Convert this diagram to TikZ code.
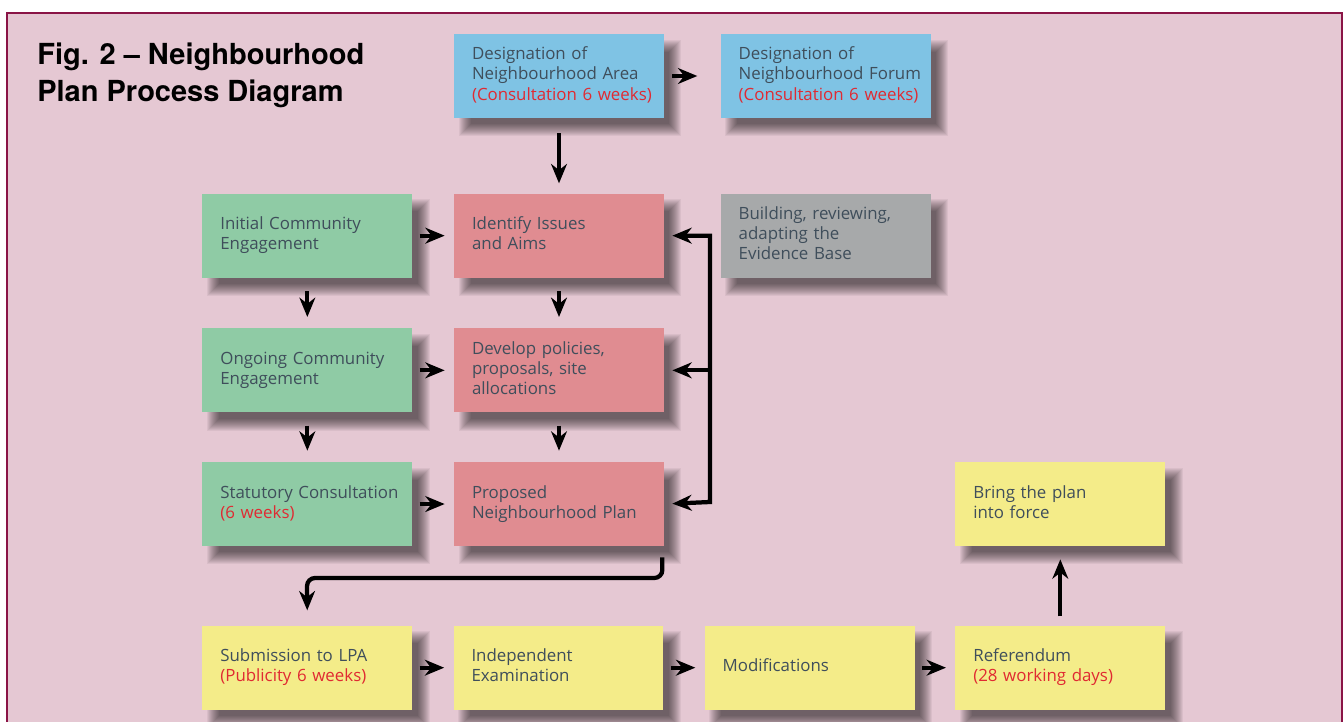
\documentclass[tikz,border=0pt]{standalone}
\usepackage{fontspec}
\setmainfont{Open Sans}
\newfontfamily\headfont{TeX Gyre Heros}
\usetikzlibrary{positioning,arrows.meta}
\pgfdeclarelayer{back}
\pgfdeclarelayer{shade}
\pgfsetlayers{back,shade,main}
\definecolor{pagepink}{HTML}{E5C8D3}
\definecolor{framered}{HTML}{8A1446}
\definecolor{boxblue}{HTML}{7FC3E4}
\definecolor{boxred}{HTML}{E08C91}
\definecolor{boxgreen}{HTML}{8FCBA5}
\definecolor{boxgrey}{HTML}{A7A9AA}
\definecolor{boxyellow}{HTML}{F4EC89}
\definecolor{textgrey}{HTML}{3F4E5B}
\definecolor{delayred}{HTML}{E02A32}
\newcommand{\duration}[1]{\textcolor{delayred}{#1}}
\tikzset {
stage/.style={shape=rectangle,fill=#1,minimum width=4.2cm,minimum height=1.68cm,text width=3.72cm,inner xsep=0.24cm,align=left,text=textgrey,font=\fontsize{9.6}{11.4}\selectfont,execute at begin node={\leftskip=0.12cm\strut},execute at end node=\strut},
flow/.style={->,line width=0.085cm},
across/.style={flow,shorten <=0.14cm,shorten >=0.18cm},
down/.style={flow,shorten <=0.26cm,shorten >=0.22cm},
heading/.style={anchor=north west,inner sep=0pt,align=left,font=\headfont\bfseries\fontsize{16.5}{21}\selectfont}
}
\begin{document}
\begin{tikzpicture}
[x=0.02cm,y=-0.02cm,>={Stealth[length=11pt,width=9pt,inset=3.5pt]}]
\useasboundingbox (0,0) rectangle (1344,722);
\begin{pgfonlayer}{back}
\fill[white] (0,0) rectangle (1344,722);
\draw[fill=pagepink,draw=framered,line width=0.05cm] (7,13) rectangle (1342,760);
\end{pgfonlayer}
\node[heading] (title) at (37,43) {Fig. 2 – Neighbourhood\\Plan Process Diagram};

\node[stage=boxblue] (area) at (559,76) {Designation of\\Neighbourhood Area\\\duration{(Consultation 6 weeks)}};
\node[stage=boxblue] (forum) [right=1.12cm of area] {Designation of\\\mbox{Neighbourhood Forum}\\\duration{(Consultation 6 weeks)}};
\node[stage=boxred] (issues) [below=1.5cm of area] {Identify Issues\\and Aims};
\node[stage=boxgrey] (evidence) [right=1.12cm of issues] {Building, reviewing,\\adapting the\\Evidence Base};
\node[stage=boxgreen] (initial) [left=0.82cm of issues] {Initial Community\\Engagement};
\node[stage=boxred] (policies) [below=1cm of issues] {Develop policies,\\proposals, site\\allocations};
\node[stage=boxgreen] (ongoing) [left=0.82cm of policies] {Ongoing Community\\Engagement};
\node[stage=boxred] (proposed) [below=0.98cm of policies] {Proposed\\Neighbourhood Plan};
\node[stage=boxgreen] (statutory) [left=0.82cm of proposed] {Statutory Consultation\\\duration{(6 weeks)}};
\node[stage=boxyellow] (submission) [below=1.58cm of statutory] {Submission to LPA\\\duration{(Publicity 6 weeks)}};
\node[stage=boxyellow] (examination) [right=0.81cm of submission] {Independent\\Examination};
\node[stage=boxyellow] (modifications) [right=0.81cm of examination] {Modifications};
\node[stage=boxyellow] (referendum) [right=0.8cm of modifications] {Referendum\\\duration{(28 working days)}};
\node[stage=boxyellow] (force) [above=1.58cm of referendum] {Bring the plan\\into force};
\coordinate (loop bottom) at (710,502);
\coordinate (drop) at (307,578);

\begin{pgfonlayer}{shade}
\foreach \n in {area,forum,issues,evidence,initial,policies,ongoing,proposed,statutory,submission,examination,modifications,referendum,force}
  \foreach \g in {-6,...,6}
    \fill[black,opacity=0.05] ([shift={({11-(\g)},{12-(\g)})}]\n.north west) rectangle ([shift={({11+(\g)},{12+(\g)})}]\n.south east);
\end{pgfonlayer}

\draw[flow,shorten <=0.16cm,shorten >=0.46cm] (area) -- (forum);
\draw[flow,shorten <=0.3cm,shorten >=0.2cm] (area) -- (issues);
\draw[across] (initial) -- (issues);
\draw[across] (ongoing) -- (policies);
\draw[across] (statutory) -- (proposed);
\draw[down] (initial) -- (ongoing);
\draw[down] (ongoing) -- (statutory);
\draw[down] (issues) -- (policies);
\draw[down] (policies) -- (proposed);
\draw[flow,<->,shorten <=0.16cm,shorten >=0.16cm] (issues.east) -| (loop bottom) -- (proposed.east);
\draw[flow,shorten >=0.16cm] (loop bottom |- policies.east) -- (policies.east);
\draw[flow,rounded corners=0.16cm,shorten <=0.22cm,shorten >=0.3cm] ([xshift=-0.04cm]proposed.south east) |- (drop) -- (submission.north);
\draw[across] (submission) -- (examination);
\draw[across] (examination) -- (modifications);
\draw[across] (modifications) -- (referendum);
\draw[flow,shorten <=0.18cm,shorten >=0.26cm] (referendum) -- (force);
\end{tikzpicture}
\end{document}
